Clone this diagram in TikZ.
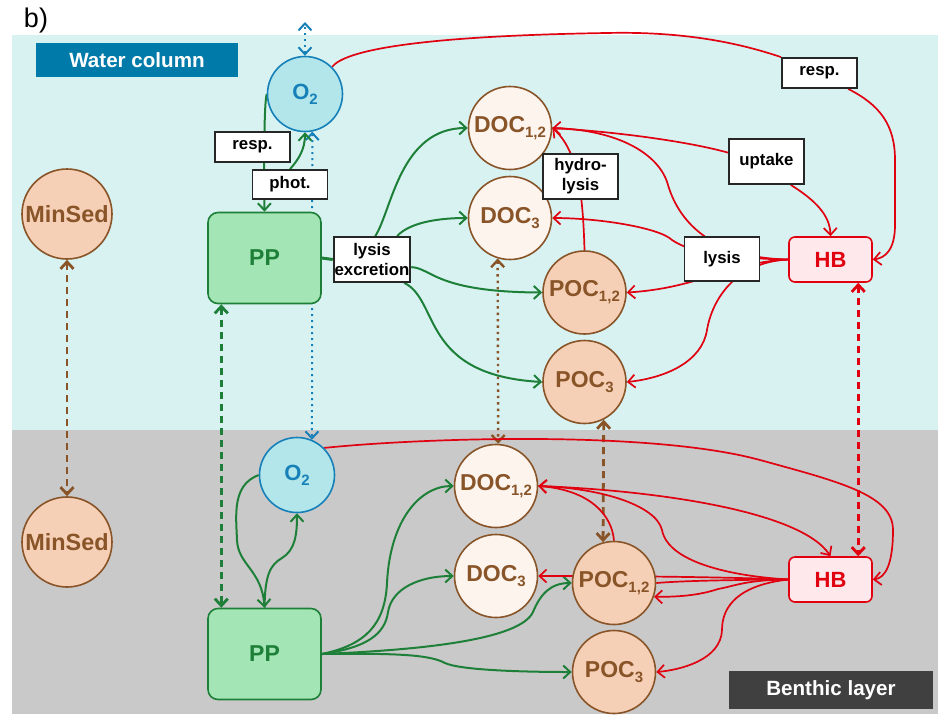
\documentclass[tikz,border=0pt]{standalone}
\usepackage{fontspec}
\setmainfont{Liberation Sans}
\usetikzlibrary{arrows.meta}
\definecolor{waterbg}{RGB}{216,242,242}
\definecolor{benthbg}{RGB}{201,201,201}
\definecolor{wcblue}{RGB}{0,122,168}
\definecolor{blgrey}{RGB}{64,64,64}
\definecolor{oxyfill}{RGB}{178,230,234}
\definecolor{oxyline}{RGB}{22,128,184}
\definecolor{ppfill}{RGB}{163,229,181}
\definecolor{ppline}{RGB}{30,128,56}
\definecolor{docfill}{RGB}{253,244,238}
\definecolor{pocfill}{RGB}{246,208,182}
\definecolor{brn}{RGB}{136,84,40}
\definecolor{hbfill}{RGB}{255,232,235}
\definecolor{redline}{RGB}{224,0,16}
\pgfdeclarelayer{bg}
\pgfdeclarelayer{links}
\pgfsetlayers{bg,links,main}
\newcommand{\lowidx}[1]{\raisebox{-2.5pt}{\fontsize{7.5}{7.5}\selectfont #1}}

\begin{document}
\begin{tikzpicture}[x=0.5pt,y=-0.5pt,>={Straight Barb[length=3.5pt,width=6.5pt]},
  pool/.style={circle,draw=brn,line width=0.8pt,minimum size=41.5pt,inner sep=0pt,text=brn,font=\bfseries\fontsize{11.5}{12}\selectfont},
  dpool/.style={pool,fill=docfill},
  ppool/.style={pool,fill=pocfill},
  sed/.style={ppool,minimum size=45pt,font=\bfseries\fontsize{11.7}{12}\selectfont},
  oxy/.style={circle,draw=oxyline,fill=oxyfill,line width=0.8pt,minimum size=37.5pt,inner sep=0pt,text=oxyline,font=\bfseries\fontsize{11}{12}\selectfont},
  prod/.style={rectangle,rounded corners=5pt,draw=ppline,fill=ppfill,line width=0.8pt,minimum width=56.5pt,minimum height=45.5pt,text=ppline,font=\bfseries\fontsize{11.5}{12}\selectfont},
  bact/.style={rectangle,rounded corners=3pt,draw=redline,fill=hbfill,line width=0.8pt,minimum width=41.5pt,minimum height=22.5pt,text=redline,font=\bfseries\fontsize{11}{12}\selectfont},
  proc/.style={rectangle,draw=black!85,fill=white,line width=0.9pt,minimum width=37.5pt,inner sep=0.5pt,align=center,font=\bfseries\fontsize{8.4}{10}\selectfont},
  panel/.style={rectangle,text=white,inner sep=0pt,font=\bfseries\fontsize{10.3}{12}\selectfont},
  gflow/.style={draw=ppline,line width=1pt},
  rflow/.style={draw=redline,line width=0.85pt},
  o2link/.style={draw=oxyline,line width=1pt,dotted},
  exch/.style={line width=1.4pt,dash pattern=on 3.5pt off 2.5pt}]

\begin{pgfonlayer}{bg}
\fill[waterbg] (12,35) rectangle (938,430);
\fill[benthbg] (12,430) rectangle (938,714);
\end{pgfonlayer}
\useasboundingbox (0,0) rectangle (938,714);

\node[font=\fontsize{13.5}{16}\selectfont] (tag) at (36,21) {b)};
\node[panel,fill=wcblue,minimum width=101pt,minimum height=17pt] (wc) at (137,60) {Water column};
\node[panel,fill=blgrey,minimum width=102pt,minimum height=19pt] (bl) at (831,690) {Benthic layer};

\node[sed] (sedw) at (67,214) {MinSed};
\node[sed] (sedb) at (67,542) {MinSed};
\node[oxy] (o2w) at (305,94) {O\lowidx{2}};
\node[oxy] (o2b) at (297,475) {O\lowidx{2}};
\node[prod] (ppw) at (264.5,258) {PP};
\node[prod] (ppb) at (264.5,654) {PP};
\node[dpool] (doc12w) at (510,128) {DOC\lowidx{1,2}};
\node[dpool] (doc3w) at (510,218) {DOC\lowidx{3}};
\node[ppool] (poc12w) at (584.5,292.5) {POC\lowidx{1,2}};
\node[ppool] (poc3w) at (584.5,382) {POC\lowidx{3}};
\node[dpool] (doc12b) at (496,486) {DOC\lowidx{1,2}};
\node[dpool] (doc3b) at (496,576) {DOC\lowidx{3}};
\node[ppool] (poc12b) at (614,583) {POC\lowidx{1,2}};
\node[ppool] (poc3b) at (614,672) {POC\lowidx{3}};
\node[bact] (hbw) at (830.5,259.5) {HB};
\node[bact] (hbb) at (830.5,579.5) {HB};

\node[proc,minimum height=15pt] (respw) at (252.5,147) {resp.};
\node[proc,minimum height=14.5pt] (photw) at (290,184.5) {phot.};
\node[proc,minimum height=22.5pt] (lysexc) at (372,259.5) {lysis\\excretion};
\node[proc,minimum height=22.5pt] (hydro) at (580.5,176.5) {hydro-\\lysis};
\node[proc,minimum height=22.5pt] (uptake) at (766.5,161.5) {uptake};
\node[proc,minimum height=15pt] (resphb) at (819.5,73) {resp.};
\node[proc,minimum height=22pt] (lysishb) at (722,259) {lysis};
\coordinate (atm) at (305,22);

\begin{pgfonlayer}{links}
% exchange between the layers
\draw[o2link,<->] (o2w.north) -- (atm);
\draw[o2link,<->] (o2w.-79) -- (o2b.67);
\draw[exch,draw=brn,<->] (sedw.south) -- (sedb.north);
\draw[exch,draw=ppline,<->] (ppw.-133) -- (ppb.133);
\draw[draw=brn,line width=1.2pt,dotted,<->] (doc3w.-107) -- (doc12b.87);
\draw[exch,draw=brn,<->] (poc3w.-63) -- (poc12b.105);
\draw[exch,draw=redline,<->] (hbw.-40) -- (hbb.40);

% primary producers, water column
\draw[gflow,->] (o2w.west) .. controls (264,105) and (264,160) .. (ppw.north);
\draw[gflow,->] (photw.north) .. controls (298,160) and (305,150) .. (o2w.south);
\draw[gflow,line width=1.5pt] (ppw.east) -- (lysexc.west);
\draw[gflow,->] (lysexc.82) .. controls (392,210) and (400,128) .. (doc12w.west);
\draw[gflow,->] (lysexc.43) .. controls (410,222) and (440,218) .. (doc3w.west);
\draw[gflow,->] (lysexc.-11) .. controls (432,268) and (435,292) .. (poc12w.west);
\draw[gflow,->] (lysexc.-36) .. controls (440,300) and (420,375) .. (poc3w.west);

% primary producers, benthic layer
\draw[gflow,->] (o2b.west) .. controls (232,485) and (236,515) .. (237,540) .. controls (238,565) and (262,570) .. (ppb.north);
\draw[gflow,->] (ppb.north) .. controls (265,575) and (270,565) .. (282,558) .. controls (295,550) and (297,535) .. (o2b.south);
\draw[gflow,->] (ppb.east) .. controls (365,645) and (385,625) .. (387,583) .. controls (390,520) and (420,486) .. (doc12b.west);
\draw[gflow,->] (ppb.east) .. controls (365,648) and (385,635) .. (388,612) .. controls (392,588) and (420,576) .. (doc3b.west);
\draw[gflow,->] (ppb.east) .. controls (420,650) and (520,640) .. (533,612) .. controls (540,595) and (550,583) .. (poc12b.west);
\draw[gflow,->] (ppb.east) .. controls (400,653) and (430,655) .. (445,663) .. controls (460,670) and (520,672) .. (poc3b.west);

% bacteria, water column
\draw[rflow] (o2w.45) .. controls (345,50) and (420,36) .. (606,33) .. controls (690,31) and (745,45) .. (resphb.north west);
\draw[rflow,->] (resphb.-29.5) .. controls (880,105) and (895,125) .. (895,160) -- (895,225) .. controls (895,250) and (885,258) .. (hbw.east);
\draw[rflow] (doc12w.east) .. controls (620,132) and (690,142) .. (uptake.167);
\draw[rflow,->] (uptake.-44) .. controls (815,200) and (830,215) .. (hbw.north);
\draw[rflow,->] (poc12w.north) .. controls (583,195) and (578,150) .. (doc12w.east);
\draw[rflow,->] (hbw.west) .. controls (715,258) and (680,225) .. (668,185) .. controls (660,155) and (620,130) .. (doc12w.east);
\draw[rflow,->] (hbw.west) .. controls (720,258) and (690,252) .. (672,240) .. controls (660,228) and (600,218) .. (doc3w.east);
\draw[rflow,->] (hbw.west) .. controls (730,262) and (700,288) .. (poc12w.east);
\draw[rflow,->] (hbw.west) .. controls (735,262) and (712,300) .. (707,330) .. controls (702,362) and (665,378) .. (poc3w.east);

% bacteria, benthic layer
\draw[rflow,->] (o2b.45) .. controls (420,438) and (650,430) .. (760,460) .. controls (840,482) and (893,495) .. (893,530) .. controls (893,565) and (885,578) .. (hbb.east);
\draw[rflow,->] (doc12b.east) .. controls (650,490) and (800,510) .. (hbb.north);
\draw[rflow,->] (poc12b.north) .. controls (612,515) and (590,490) .. (doc12b.east);
\draw[rflow,->] (hbb.west) .. controls (730,576) and (668,562) .. (662,530) .. controls (656,505) and (600,488) .. (doc12b.east);
\draw[rflow,->] (hbb.west) .. controls (720,577) and (640,576) .. (doc3b.east);
\draw[rflow] (hbb.west) .. controls (720,580) and (680,581) .. (poc12b.east);
\draw[rflow,->] (hbb.west) .. controls (745,580) and (735,586) .. (718,589) .. controls (700,595) and (680,597) .. (poc12b.-19);
\draw[rflow,->] (hbb.west) .. controls (740,585) and (722,605) .. (722,630) .. controls (721,660) and (680,670) .. (poc3b.east);
\end{pgfonlayer}
\end{tikzpicture}
\end{document}
